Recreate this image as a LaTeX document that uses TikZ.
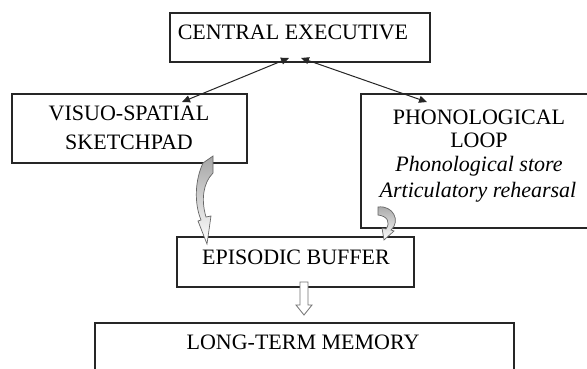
\documentclass[tikz,border=0pt]{standalone}
\usepackage{fontspec}
\setmainfont{Liberation Serif}
\usetikzlibrary{arrows.meta}
\begin{document}
\begin{tikzpicture}[x=1pt,y=-1pt,
  boxline/.style={draw=black!85,line width=1.3pt},
  lbl/.style={font=\fontsize{22}{26}\selectfont,inner sep=0pt,anchor=center},
  ilbl/.style={font=\fontsize{22}{26}\selectfont\itshape,inner sep=0pt,anchor=center},
  link/.style={draw=black!85,line width=1pt,{Triangle[length=8pt,width=7pt]}-{Triangle[length=8pt,width=7pt]}},
  curvy/.style={draw=black!60,line width=0.7pt,top color=black!35,bottom color=white}
]
\clip (0,0) rectangle (587,369);
\fill[white] (0,0) rectangle (587,369);
% boxes
\draw[boxline] (170,13) rectangle (430,62);
\draw[boxline] (12,94) rectangle (247,163);
\draw[boxline] (361,94) rectangle (620,228);
\draw[boxline] (177,237) rectangle (414,287);
\draw[boxline] (95,400) -- (95,323) -- (514,323) -- (514,400);
% texts
\node[lbl] (ce) at (293,32) {CENTRAL EXECUTIVE};
\node[lbl] (vs1) at (129,113) {VISUO-SPATIAL};
\node[lbl] (vs2) at (129,142) {SKETCHPAD};
\node[lbl] (pl1) at (479,117) {PHONOLOGICAL};
\node[lbl] (pl2) at (479,140) {LOOP};
\node[ilbl] (pl3) at (479,166) {Phonological store};
\node[ilbl] (pl4) at (478,192) {Articulatory rehearsal};
\node[lbl] (eb) at (296,257) {EPISODIC BUFFER};
\node[lbl] (ltm) at (303,342) {LONG-TERM MEMORY};
% connector ends
\coordinate (ceL) at (289,58);
\coordinate (ceR) at (301,58);
\coordinate (vsIn) at (182,102);
\coordinate (plIn) at (427,102);
\draw[link] (ceL) -- (vsIn);
\draw[link] (ceR) -- (plIn);
% curved block arrow from sketchpad to buffer
\path[curvy] (203,163) -- (213,156) -- (213,173)
  .. controls (203,183) and (201,200) .. (206,217)
  -- (211,216) -- (207,244) -- (198,221) -- (201,220)
  .. controls (194,203) and (195,180) .. cycle;
% small curved arrow from loop to buffer
\path[curvy] (378,207) .. controls (393,205) and (401,221) .. (391,230)
  -- (394,231) -- (384,240) -- (382,228) -- (386,229)
  .. controls (391,222) and (387,216) .. (378,215) -- cycle;
% hollow arrow buffer -> long-term memory
\path[draw=black!55,fill=white,line width=0.8pt] (300,282) -- (308,282) -- (308,305) -- (312,305)
  -- (304,315) -- (296,305) -- (300,305) -- cycle;
\end{tikzpicture}
\end{document}
